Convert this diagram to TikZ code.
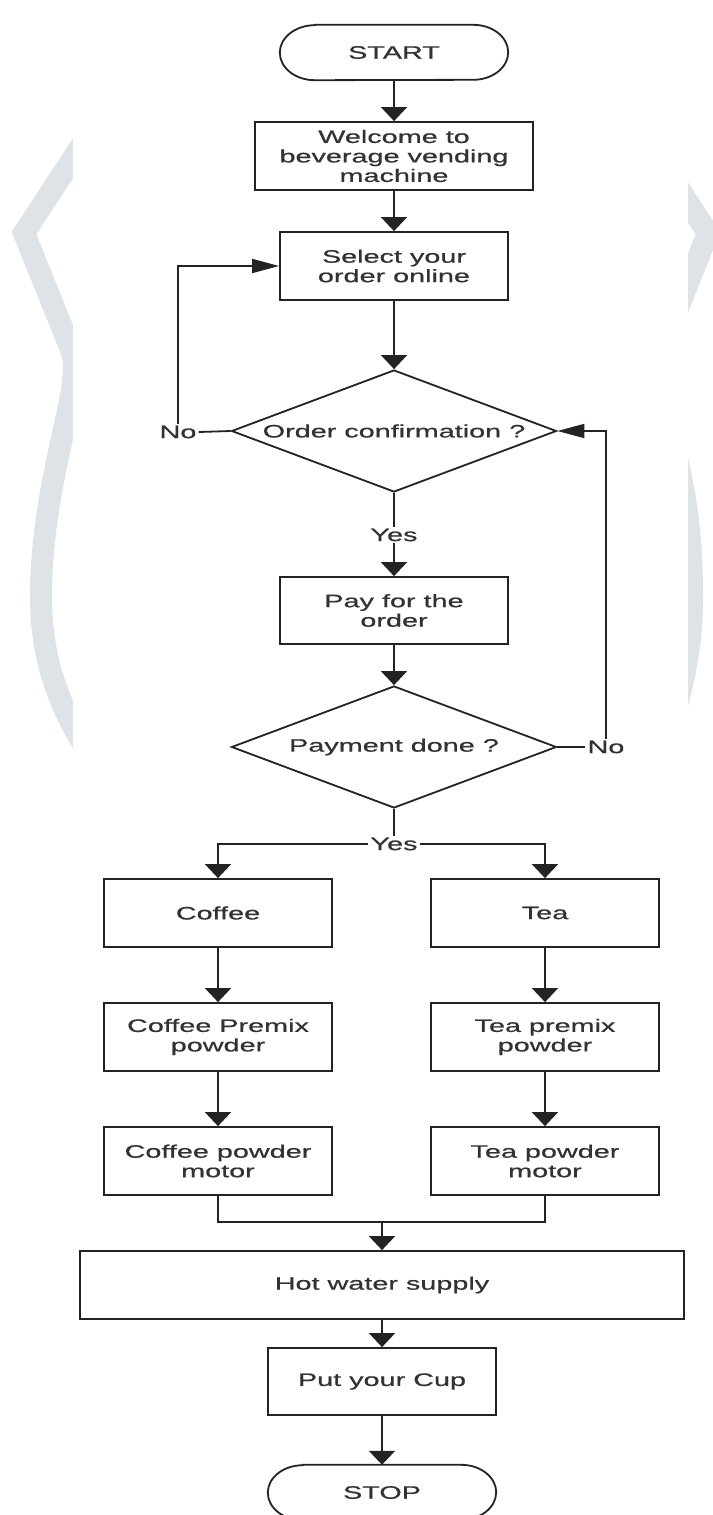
\documentclass[tikz,border=0pt]{standalone}
\usepackage{fontspec}
\setmainfont{Liberation Sans}[FakeStretch=1.6,FakeBold=0.6]
\usetikzlibrary{arrows.meta,shapes.geometric,calc}
\definecolor{bandgrey}{RGB}{222,227,232}
\definecolor{inkc}{RGB}{35,35,35}
\definecolor{txtc}{RGB}{50,50,50}
\newcommand\diagfont{\fontsize{18}{19.5}\selectfont}
\newcommand\termoutline[1]{%
  \draw[inkc,line width=1.8pt] ([xshift=35pt]#1.north west) -- ([xshift=-35pt]#1.north east)
    arc[start angle=-90,end angle=90,x radius=35,y radius=27.5]
    -- ([xshift=35pt]#1.south west)
    arc[start angle=90,end angle=270,x radius=35,y radius=27.5] -- cycle;}
\begin{document}
\begin{tikzpicture}[x=1pt,y=-1pt,
  box/.style={draw=inkc,line width=1.8pt,fill=white,minimum width=228pt,minimum height=68pt,
    inner sep=2pt,align=center,font=\diagfont,text=txtc},
  term/.style={minimum width=228pt,minimum height=55pt,inner sep=0pt,font=\diagfont,text=txtc},
  decbox/.style={diamond,draw=inkc,line width=1.8pt,minimum width=325pt,minimum height=122pt,inner sep=0pt},
  lbl/.style={font=\diagfont,text=txtc,inner sep=2pt,fill=white},
  conn/.style={draw=inkc,line width=1.8pt},
  varr/.style={-{Triangle[width=26pt,length=14pt]}},
  harr/.style={-{Triangle[width=14pt,length=27pt]}},
  band/.style={draw=bandgrey,line width=22pt,line join=miter}
]
\useasboundingbox (0,0) rectangle (712,1515);
\fill[white] (0,0) rectangle (712,1515);
% background bands
\draw[band] (108,105) -- (24,233) -- (72,352) .. controls (84,385) and (41,480) .. (41,596) .. controls (41,665) and (62,715) .. (100,770);
\draw[band] (624,105) -- (708,233) -- (655,365);
\draw[band] (670,430) .. controls (688,500) and (692,540) .. (692,597) .. controls (692,660) and (680,700) .. (650,790);
\fill[white] (73,0) rectangle (688,1515);

% nodes
\node[term] (start) at (394,52.5) {START};
\termoutline{start}
\node[box,minimum width=278pt] (welcome) at (394,156) {Welcome to\\beverage vending\\machine};
\node[box] (select) at (394,266) {Select your\\order online};
\node[decbox] (dec1) at (394,431) {};
\node[font=\diagfont,text=txtc] at (dec1) {Order confirmation ?};
\node[box,minimum height=67pt] (pay) at (394,610.5) {Pay for the\\order};
\node[decbox] (dec2) at (394,747) {};
\node[font=\diagfont,text=txtc] at (dec2) {Payment done ?};
\node[box] (coffee) at (218,913) {Coffee};
\node[box] (tea) at (545,913) {Tea};
\node[box] (cpremix) at (218,1037) {Coffee Premix\\powder};
\node[box] (tpremix) at (545,1037) {Tea premix\\powder};
\node[box] (cmotor) at (218,1161) {Coffee powder\\motor};
\node[box] (tmotor) at (545,1161) {Tea powder\\motor};
\node[box,minimum width=604pt] (hot) at (382,1285) {Hot water supply};
\node[box,minimum height=67pt] (cup) at (382,1381.5) {Put your Cup};
\node[term] (stop) at (382,1492.5) {STOP};
\termoutline{stop}

% labels
\node[lbl] (noL) at (178,432) {No};
\node[lbl] (noR) at (606,747) {No};
\node[lbl] (yes1) at (394,535) {Yes};
\node[lbl] (yes2) at (394,844) {Yes};
\coordinate (merge) at (382,1222);

% connectors
\draw[conn,varr] (start) -- (welcome);
\draw[conn,varr] (welcome) -- (select);
\draw[conn,varr] (select) -- (dec1);
\draw[conn] (dec1.west) -- (noL.east);
\draw[conn,harr] (noL.north) |- (select.west);
\draw[conn] (dec1.south) -- (yes1.north);
\draw[conn,varr] (yes1.south) -- (pay.north);
\draw[conn,varr] (pay) -- (dec2);
\draw[conn] (dec2.east) -- (noR.west);
\draw[conn,harr] (noR.north) |- (dec1.east);
\draw[conn] (dec2.south) -- (yes2.north);
\draw[conn,varr] (yes2.west) -| (coffee.north);
\draw[conn,varr] (yes2.east) -| (tea.north);
\draw[conn,varr] (coffee) -- (cpremix);
\draw[conn,varr] (tea) -- (tpremix);
\draw[conn,varr] (cpremix) -- (cmotor);
\draw[conn,varr] (tpremix) -- (tmotor);
\draw[conn] (cmotor.south) |- (merge);
\draw[conn] (tmotor.south) |- (merge);
\draw[conn,varr] (merge) -- (hot.north);
\draw[conn,varr] (hot) -- (cup);
\draw[conn,varr] (cup) -- (stop);
\end{tikzpicture}
\end{document}
